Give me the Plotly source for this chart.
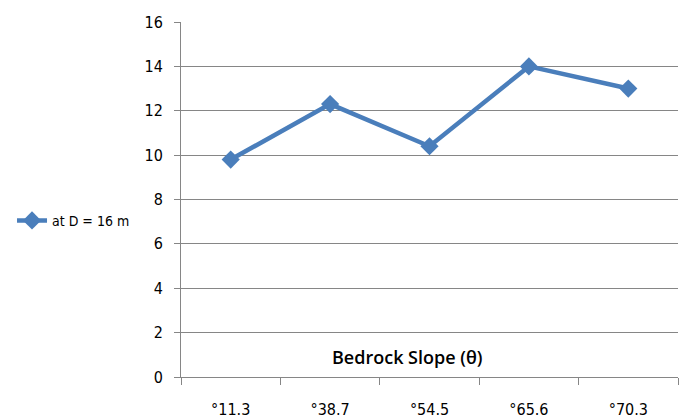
import plotly.graph_objects as go

# Bedrock slope categories and the measured values at D = 16 m
categories = ["°11.3", "°38.7", "°54.5", "°65.6", "°70.3"]
values = [9.8, 12.3, 10.4, 14.0, 13.0]
series_name = "at D = 16 m"
y_ticks = [0, 2, 4, 6, 8, 10, 12, 14, 16]

narrow = "DejaVu Sans Condensed, DejaVu Sans, sans-serif"
blue = "#4A7EBB"

fig = go.Figure()
fig.add_trace(go.Scatter(
    x=categories,
    y=values,
    mode="lines+markers",
    name=series_name,
    line=dict(color=blue, width=4.5),
    marker=dict(symbol="diamond", size=14, color=blue),
))

fig.update_layout(
    width=692,
    height=419,
    margin=dict(l=179, r=14, t=22, b=42),
    paper_bgcolor="white",
    plot_bgcolor="white",
    font=dict(family=narrow, size=15, color="#000000"),
    showlegend=True,
    legend=dict(
        x=-0.34, xanchor="left",
        y=0.44, yanchor="middle",
        font=dict(family=narrow, size=14, color="#000000"),
        bgcolor="rgba(0,0,0,0)",
    ),
    xaxis=dict(
        type="category",
        range=[-0.5, 4.5],
        tickson="boundaries",
        ticks="outside",
        ticklen=7,
        tickcolor="#868686",
        showline=True,
        linecolor="#868686",
        linewidth=1,
        showgrid=False,
        automargin=False,
        tickfont=dict(family=narrow, size=16),
        ticklabelstandoff=18,
    ),
    yaxis=dict(
        range=[0, 16],
        tickvals=y_ticks,
        ticks="outside",
        ticklen=6,
        tickcolor="#868686",
        showline=True,
        linecolor="#868686",
        linewidth=1,
        showgrid=True,
        gridcolor="#868686",
        gridwidth=1,
        zeroline=False,
        automargin=False,
        tickfont=dict(family=narrow, size=16),
        ticklabelstandoff=8,
    ),
    annotations=[dict(
        text="Bedrock Slope (θ)",
        xref="paper", yref="paper",
        x=0.455, y=0.055,
        xanchor="center", yanchor="middle",
        showarrow=False,
        font=dict(family="Open Sans, sans-serif", size=18, color="#000000", weight=600),
    )],
)

fig.write_html("out.html")
